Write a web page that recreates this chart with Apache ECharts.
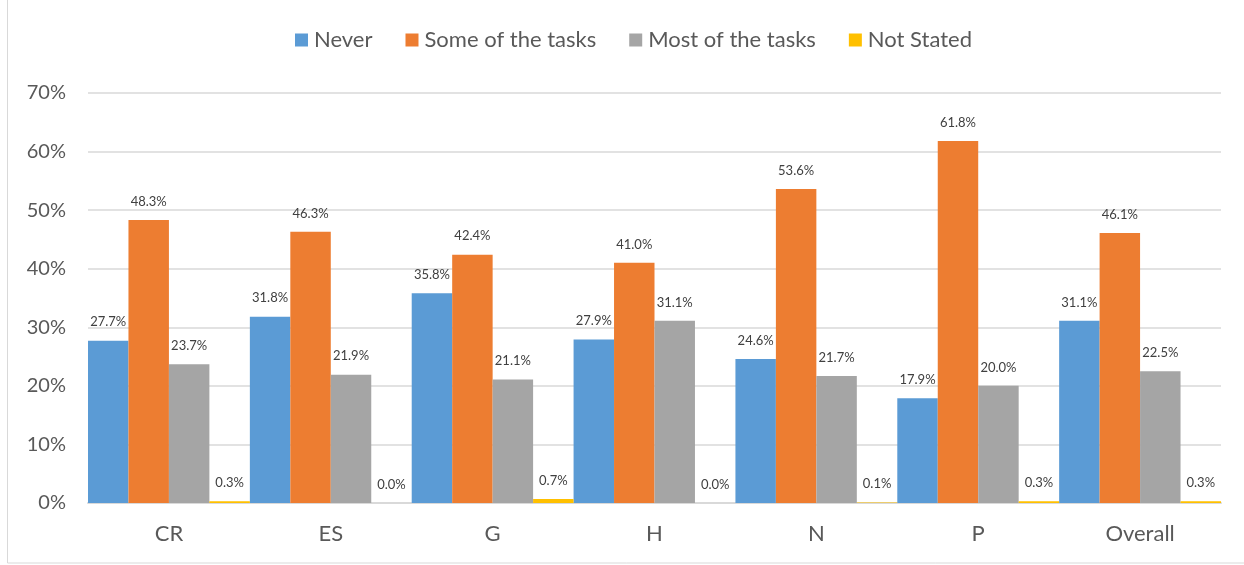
<!DOCTYPE html>
<html>
<head>
<meta charset="utf-8">
<script src="https://cdn.jsdelivr.net/npm/echarts@6/dist/echarts.min.js"></script>
<style>
  html, body { margin: 0; padding: 0; background: #fff; }
  #chart { width: 1244px; height: 565px; }
</style>
</head>
<body>
<div id="chart"></div>
<script>
const categories = ['CR', 'ES', 'G', 'H', 'N', 'P', 'Overall'];
const never = [27.7, 31.8, 35.8, 27.9, 24.6, 17.9, 31.1];
const someTasks = [48.3, 46.3, 42.4, 41.0, 53.6, 61.8, 46.1];
const mostTasks = [23.7, 21.9, 21.1, 31.1, 21.7, 20.0, 22.5];
const notStated = [0.3, 0.0, 0.7, 0.0, 0.1, 0.3, 0.3];

const fontFamily = 'Lato, "Open Sans", sans-serif';

const chart = echarts.init(document.getElementById('chart'));

// one bar series per answer, labels sit above the bars like the Excel original
const makeSeries = (name, data, color) => ({
  name,
  type: 'bar',
  data,
  barGap: '0%',
  barCategoryGap: '0%',
  itemStyle: { color },
  label: {
    show: true,
    position: 'top',
    distance: 12,
    fontFamily,
    fontSize: 13,
    color: '#404040',
    formatter: p => p.value.toFixed(1) + '%'
  }
});

chart.setOption({
  animation: false,
  textStyle: { fontFamily },
  graphic: [{
    type: 'rect',
    shape: { x: 7.5, y: -5, width: 1260, height: 568 },
    style: { fill: 'none', stroke: '#D9D9D9', lineWidth: 1 },
    silent: true
  }],
  legend: {
    top: 24,
    left: 290,
    itemWidth: 13,
    itemHeight: 13,
    itemGap: 33,
    icon: 'rect',
    textStyle: { fontSize: 22, color: '#595959', fontFamily, padding: [0, 0, 0, 1] },
    data: ['Never', 'Some of the tasks', 'Most of the tasks', 'Not Stated']
  },
  grid: { left: 88, right: 23, top: 93, bottom: 62, containLabel: false },
  xAxis: {
    type: 'category',
    data: categories,
    axisLine: { lineStyle: { color: '#D9D9D9', width: 2 } },
    axisTick: { show: false },
    axisLabel: { fontSize: 22, color: '#595959', margin: 20, fontFamily }
  },
  yAxis: {
    type: 'value',
    min: 0,
    max: 70,
    interval: 10,
    axisLine: { show: false },
    axisTick: { show: false },
    splitLine: { lineStyle: { color: '#D9D9D9', width: 1.5 } },
    axisLabel: {
      fontSize: 20,
      color: '#595959',
      margin: 22,
      fontFamily,
      formatter: v => v + '%'
    }
  },
  series: [
    makeSeries('Never', never, '#5B9BD5'),
    makeSeries('Some of the tasks', someTasks, '#ED7D31'),
    makeSeries('Most of the tasks', mostTasks, '#A5A5A5'),
    makeSeries('Not Stated', notStated, '#FFC000')
  ]
});
</script>
</body>
</html>
